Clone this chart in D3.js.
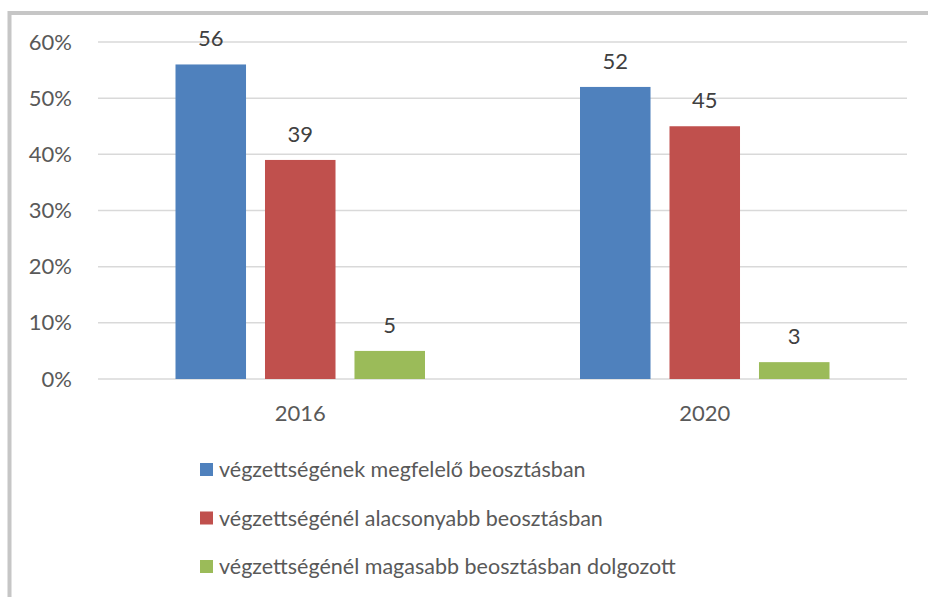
<!DOCTYPE html>
<html>
<head>
<meta charset="utf-8">
<script src="https://cdn.jsdelivr.net/npm/d3@7"></script>
<style>
  body { margin: 0; background: #fff; }
  text { font-family: Lato, "Open Sans", sans-serif; }
</style>
</head>
<body>
<div id="chart"></div>
<script>
// data
const years = ["2016", "2020"];
const seriesNames = [
  "végzettségének megfelelő beosztásban",
  "végzettségénél alacsonyabb beosztásban",
  "végzettségénél magasabb beosztásban dolgozott"
];
const megfelelo = [56, 52];
const alacsonyabb = [39, 45];
const magasabb = [5, 3];
const yTicks = [0, 10, 20, 30, 40, 50, 60];
const colors = ["#4F81BD", "#C0504D", "#9BBB59"];

const W = 928, H = 597;
const margin = {top: 42, right: 21, bottom: 218, left: 98};
const width = W - margin.left - margin.right,
      height = H - margin.top - margin.bottom;

const svg = d3.select("#chart")
  .append("svg")
    .attr("width", W)
    .attr("height", H);

// outer frame (only top/left visible in the picture)
svg.append("rect")
  .attr("x", 9.5).attr("y", 13)
  .attr("width", W + 20).attr("height", H + 20)
  .attr("fill", "none")
  .attr("stroke", "#c6c6c6")
  .attr("stroke-width", 4);

const g = svg.append("g")
  .attr("transform", `translate(${margin.left},${margin.top})`);

const x0 = d3.scaleBand().domain(years).range([0, width]);
const x1 = d3.scaleBand().domain([0, 1, 2])
  .range([0, x0.bandwidth()])
  .paddingInner(0.212)
  .paddingOuter(0.866);
const y = d3.scaleLinear().domain([0, 60]).range([height, 0]);

// gridlines
g.append("g")
  .selectAll("line")
  .data(yTicks)
  .join("line")
    .attr("x1", 0).attr("x2", width)
    .attr("y1", d => y(d)).attr("y2", d => y(d))
    .attr("stroke", "#d9d9d9")
    .attr("stroke-width", 1.5);

// y axis labels
const yAxis = g.append("g")
  .call(d3.axisLeft(y).tickValues(yTicks).tickSize(0).tickPadding(26).tickFormat(d => d + "%"));
yAxis.select(".domain").remove();
yAxis.selectAll("text")
  .attr("font-size", 22)
  .attr("fill", "#595959")
  .style("font-family", "Lato, sans-serif");

// x axis labels
const xAxis = g.append("g")
  .attr("transform", `translate(0,${height})`)
  .call(d3.axisBottom(x0).tickSize(0).tickPadding(26));
xAxis.select(".domain").remove();
xAxis.selectAll("text")
  .attr("font-size", 22)
  .attr("fill", "#595959")
  .style("font-family", "Lato, sans-serif");

const allSeries = [megfelelo, alacsonyabb, magasabb];
const rows = [];
years.forEach((yr, i) => {
  allSeries.forEach((s, j) => rows.push({year: yr, s: j, v: s[i]}));
});

g.selectAll("rect.bar")
  .data(rows)
  .join("rect")
    .attr("class", "bar")
    .attr("x", d => x0(d.year) + x1(d.s))
    .attr("y", d => y(d.v))
    .attr("width", x1.bandwidth())
    .attr("height", d => height - y(d.v))
    .attr("fill", d => colors[d.s]);

g.selectAll("text.val")
  .data(rows)
  .join("text")
    .attr("class", "val")
    .attr("x", d => x0(d.year) + x1(d.s) + x1.bandwidth() / 2)
    .attr("y", d => y(d.v) - 18)
    .attr("text-anchor", "middle")
    .attr("font-size", 22)
    .attr("fill", "#404040")
    .text(d => d.v);

// legend
const legend = svg.append("g")
  .attr("transform", "translate(200,463)");
const li = legend.selectAll("g")
  .data(seriesNames)
  .join("g")
    .attr("transform", (d, i) => `translate(0,${i * 48.5})`);
li.append("rect")
  .attr("width", 13).attr("height", 13)
  .attr("fill", (d, i) => colors[i]);
li.append("text")
  .attr("x", 19).attr("y", 14)
  .attr("font-size", 21.5)
  .attr("fill", "#595959")
  .text(d => d);
</script>
</body>
</html>
